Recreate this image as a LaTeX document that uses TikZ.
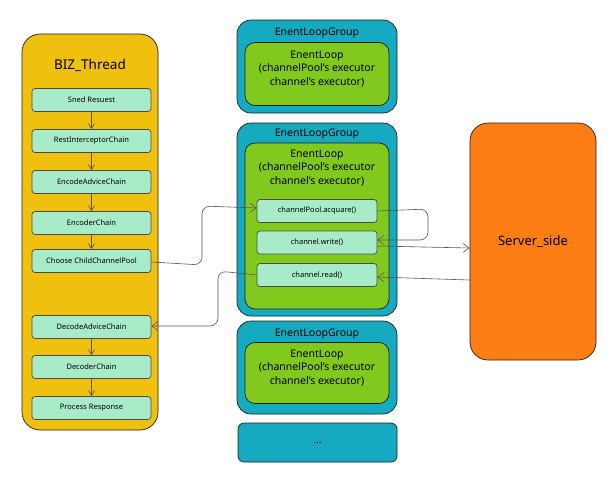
\documentclass[tikz,border=0pt]{standalone}
\usepackage{fontspec}
\setmainfont{Noto Sans}
\usetikzlibrary{arrows.meta}
\definecolor{bizyellow}{HTML}{F0C00E}
\definecolor{mint}{HTML}{A8EBC8}
\definecolor{teal}{HTML}{15AABF}
\definecolor{lgreen}{HTML}{82C91E}
\definecolor{srvorange}{HTML}{FD7E14}
\definecolor{inkc}{HTML}{1E1E1E}
\definecolor{linec}{HTML}{555555}
\tikzset{
  outline/.style={draw=inkc, line width=0.7pt},
  bizbox/.style={outline, fill=bizyellow, rounded corners=18pt, minimum width=136pt, minimum height=396pt},
  stepbox/.style={outline, draw=inkc!80, fill=mint, rounded corners=3pt, minimum width=119pt, minimum height=23pt, font=\fontsize{7.5}{9}\selectfont, inner sep=0pt},
  chanbox/.style={stepbox, minimum width=120pt},
  grpbox/.style={outline, fill=teal, rounded corners=14pt, minimum width=160pt},
  loopbox/.style={outline, fill=lgreen, rounded corners=10pt, minimum width=144pt},
  dotsbox/.style={outline, fill=teal, rounded corners=6pt, minimum width=159pt, minimum height=39pt},
  srvbox/.style={outline, fill=srvorange, rounded corners=18pt, minimum width=126pt, minimum height=237pt, font=\fontsize{13}{15}\selectfont},
  grptitle/.style={font=\fontsize{10.5}{12}\selectfont, inner sep=0pt},
  looptext/.style={font=\fontsize{10.5}{13.5}\selectfont, align=center, inner sep=0pt},
  conn/.style={draw=linec, line width=0.6pt, -{Straight Barb[length=6pt,width=9pt]}, rounded corners=8pt},
  flow/.style={draw=linec, line width=0.6pt, -{Straight Barb[length=5pt,width=6pt]}},
}
\begin{document}
\begin{tikzpicture}[x=1pt,y=-1pt]
\useasboundingbox[fill=white] (0,0) rectangle (612,482);

% BIZ thread
\node[bizbox] (biz) at (90,232) {};
\node[font=\fontsize{13.5}{15}\selectfont, inner sep=0pt] (biztitle) at (90,65) {BIZ\_Thread};
\node[stepbox] (s1) at (91.5,100) {Sned Resuest};
\node[stepbox] (s2) at (91.5,141) {RestInterceptorChain};
\node[stepbox] (s3) at (91.5,182) {EncodeAdviceChain};
\node[stepbox] (s4) at (91.5,223) {EncoderChain};
\node[stepbox] (s5) at (91.5,261) {Choose ChildChannelPool};
\node[stepbox] (s6) at (91.5,327) {DecodeAdviceChain};
\node[stepbox] (s7) at (91.5,367) {DecoderChain};
\node[stepbox] (s8) at (91.5,408) {Process Response};
\draw[flow] (s1) -- (s2);
\draw[flow] (s2) -- (s3);
\draw[flow] (s3) -- (s4);
\draw[flow] (s4) -- (s5);
\draw[flow] (s6) -- (s7);
\draw[flow] (s7) -- (s8);

% Group 1
\node[grpbox, minimum height=93pt] (g1) at (317,66.5) {};
\node[grptitle] (g1t) at (317,33) {EnentLoopGroup};
\node[loopbox, minimum height=63pt] (l1) at (317,74) {};
\node[looptext] (l1t) at (317,69) {EnentLoop\\(channelPool's executor\\channel's executor)};

% Group 2
\node[grpbox, minimum height=193pt] (g2) at (317,219.5) {};
\node[grptitle] (g2t) at (317,133.5) {EnentLoopGroup};
\node[loopbox, minimum height=166pt] (l2) at (317,226) {};
\node[looptext] (l2t) at (317,168) {EnentLoop\\(channelPool's executor\\channel's executor)};
\node[chanbox] (acq) at (317,211) {channelPool.acquare()};
\node[chanbox] (wr) at (317,242.5) {channel.write()};
\node[chanbox] (rd) at (317,275) {channel.read()};

% Group 3
\node[grpbox, minimum height=93pt] (g3) at (317,367.5) {};
\node[grptitle] (g3t) at (317,334) {EnentLoopGroup};
\node[loopbox, minimum height=61pt] (l3) at (317,373) {};
\node[looptext] (l3t) at (317,368) {EnentLoop\\(channelPool's executor\\channel's executor)};

% dots
\node[dotsbox] (dots) at (317.5,442.5) {...};

% Server
\node[srvbox] (srv) at (533,241.5) {Server\_side};

% connectors
\draw[conn] (s5.east |- 0,262) -- (202,265) -- (202,206) -- (acq.west |- 0,208);
\draw[conn] (rd.west |- 0,275) -- (218,271) -- (218,326) -- (s6.east |- 0,326);
\draw[conn] (acq.east |- 0,211) -- (428,209) -- (428,240) -- (wr.east |- 0,240);
\draw[conn] (wr.east |- 0,246) -- (srv.west |- 0,248);
\draw[conn] (srv.west |- 0,280) -- (rd.east |- 0,277);
\end{tikzpicture}
\end{document}
